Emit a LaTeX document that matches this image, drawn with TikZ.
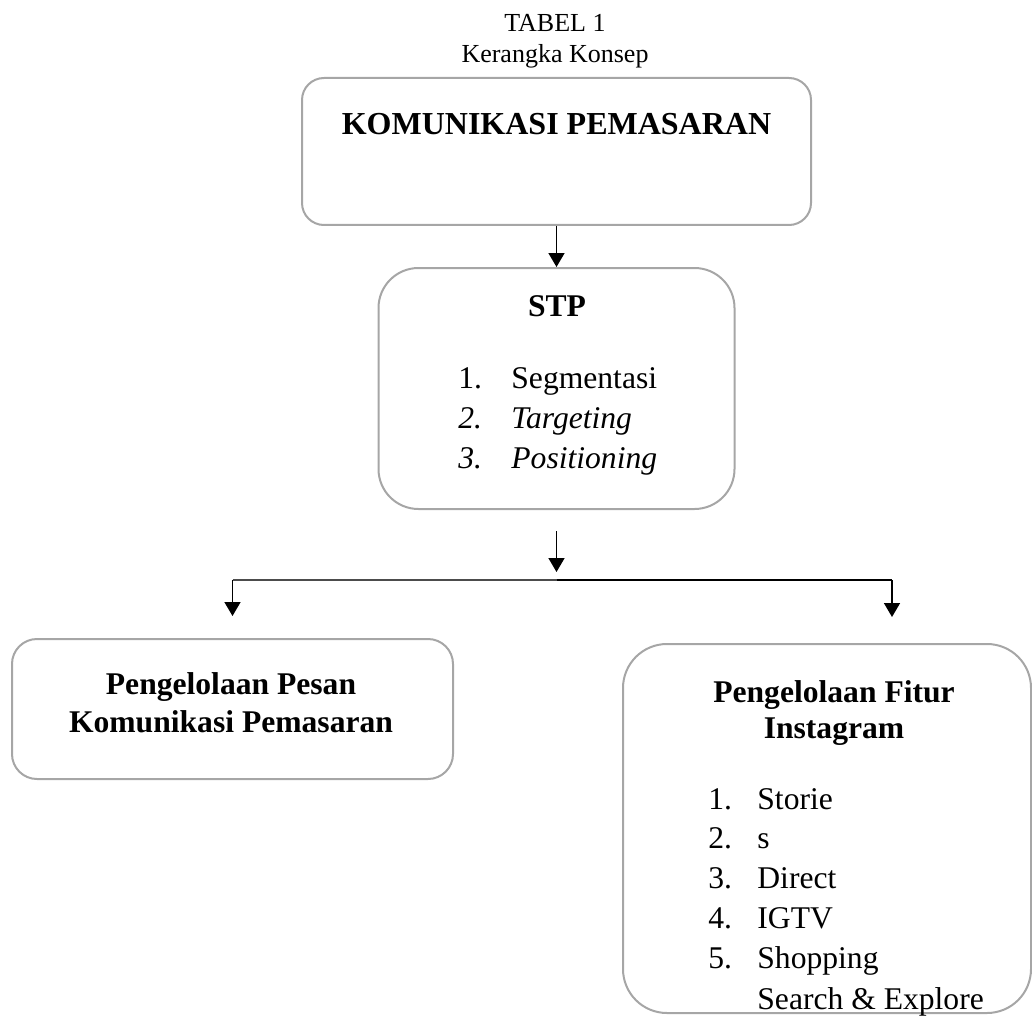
\documentclass[tikz,border=0pt]{standalone}
\usepackage{fontspec}
\setmainfont{Liberation Serif}
\newfontfamily\judulfont{Liberation Serif}
\usetikzlibrary{positioning,arrows.meta}

\begin{document}
\begin{tikzpicture}[x=0.5pt,y=-0.5pt,
	kotak/.style={draw=black!35,line width=1pt,inner sep=0pt},
	teks/.style={inner sep=0pt,anchor=base,font=\fontsize{15.8}{19}\selectfont},
	tebal/.style={teks,font=\fontsize{15.8}{19}\selectfont\bfseries},
	judul/.style={teks,font=\judulfont\fontsize{13}{15}\selectfont},
	panah/.style={-{Triangle[width=8pt,length=7pt]},line width=0.8pt}]
	\useasboundingbox (0,0) rectangle (1032,1016);
	
	\node[judul] (tabel) at (555,32) {TABEL 1};
	\node[judul] (konsep) at (555,63) {Kerangka Konsep};
	
	% kotak-kotak
	\node[kotak,minimum width=254.5pt,minimum height=73.5pt,rounded corners=11pt] (kom) at (556.5,151.5) {};
	\node[kotak,minimum width=178pt,minimum height=120.5pt,rounded corners=20pt,below=20.5pt of kom] (stp) {};
	\node[kotak,minimum width=220.5pt,minimum height=70pt,rounded corners=12.5pt] (pesan) at (232.5,709) {};
	\node[kotak,minimum width=204pt,minimum height=184.5pt,rounded corners=22pt] (fitur) at (827,828.5) {};
	
	\node[tebal,font=\fontsize{16}{19}\selectfont\bfseries] (komt) at (556.5,135) {KOMUNIKASI PEMASARAN};
	\node[tebal] (stpt) at (557,316) {STP};
	\node[tebal] (pesant1) at (231,694) {Pengelolaan Pesan};
	\node[tebal] (pesant2) at (231,732) {Komunikasi Pemasaran};
	\node[tebal] (fitur1) at (834,702) {Pengelolaan Fitur};
	\node[tebal] (fitur2) at (834,738) {Instagram};
	
	\foreach \no/\isi/\yy [count=\i] in {1./Segmentasi/388,\textit{2.}/\textit{Targeting}/428,\textit{3.}/\textit{Positioning}/468}{%
		\node[teks,anchor=base west] (sn\i) at (458,\yy) {\no};
		\node[teks,anchor=base west] (si\i) at (511,\yy) {\isi};
	}
	\foreach \no/\isi/\yy [count=\i] in {1./Storie/809,2./s/848,3./Direct/888,4./IGTV/928,5./Shopping/968}{%
		\node[teks,anchor=base west] (fn\i) at (708,\yy) {\no};
		\node[teks,anchor=base west] (fi\i) at (757,\yy) {\isi};
	}
	\node[teks,anchor=base west] (fi6) at (757,1009) {Search \& Explore};
	
	% panah
	\draw[panah] (kom.south) -- (stp.north);
	\coordinate[below=10.5pt of stp.south] (cabang0);
	\coordinate[below=35pt of stp.south] (cabang);
	\coordinate[above=11pt of pesan.north] (kiri2);
	\coordinate (kanan2) at (892,617);
	\coordinate (kiri) at (kiri2 |- cabang);
	\coordinate (kanan) at (kanan2 |- cabang);
	\draw[panah,shorten >=4pt] (cabang0) -- (cabang);
	\draw[line width=1pt,black!70] (kiri) -- (cabang);
	\draw[line width=0.6pt] (cabang) -- (kanan);
	\draw[panah] (kiri) -- (kiri2);
	\draw[panah] (kanan) -- (kanan2);
\end{tikzpicture}
\end{document}
